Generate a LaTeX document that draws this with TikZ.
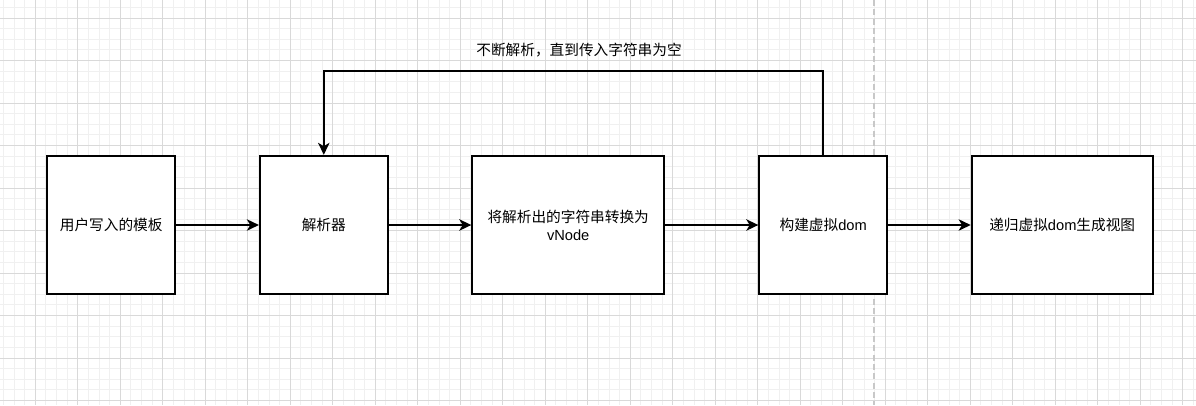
\documentclass[tikz,border=0pt]{standalone}
\usepackage{fontspec}
\setmainfont{Liberation Sans}
\newfontfamily\cjk{Noto Sans CJK SC}
\usetikzlibrary{arrows.meta}
\definecolor{gridminor}{HTML}{F0F0F0}
\definecolor{gridmajor}{HTML}{D9D9D9}
\definecolor{pagebreak}{HTML}{C8C8C8}
\begin{document}
\begin{tikzpicture}[x=0.75pt,y=-0.75pt,
  stepbox/.style={draw=black, line width=1.5pt, fill=white, minimum height=103.7pt,
    inner sep=0pt, align=center, font=\fontsize{11pt}{13.3pt}\selectfont},
  flow/.style={line width=1.5pt, -{Stealth[length=9pt,width=8.5pt,inset=2.5pt]}},
  note/.style={font=\fontsize{11pt}{13.3pt}\selectfont}]
\useasboundingbox (0,0) rectangle (1196,405);
\fill[white] (0,0) rectangle (1196,405);
% background grid
\foreach \i in {0,...,112} \draw[gridminor, line width=0.75pt] ({3.45+10.625*\i},0) -- ++(0,405);
\foreach \j in {0,...,38} \draw[gridminor, line width=0.75pt] (0,{7.4+10.625*\j}) -- ++(1196,0);
\foreach \i in {0,...,27} \draw[gridmajor, line width=0.75pt] ({35.3+42.5*\i},0) -- ++(0,405);
\foreach \j in {0,...,9} \draw[gridmajor, line width=0.75pt] (0,{18+42.5*\j}) -- ++(1196,0);
% page break
\draw[pagebreak, line width=1.5pt, dash pattern=on 4.5pt off 2.5pt] (873.7,0) -- (873.7,405);

% steps
\node[stepbox, minimum width=95.8pt] (tpl) at (111.2,225) {\cjk 用户写入的模板};
\node[stepbox, minimum width=95.8pt] (parser) at (323.8,225) {\cjk 解析器};
\node[stepbox, minimum width=143.8pt] (vnode) at (568.2,225) {{\cjk 将解析出的字符串转换为}\\vNode};
\node[stepbox, minimum width=95.8pt] (dom) at (823.2,225) {{\cjk 构建虚拟}dom};
\node[stepbox, minimum width=135.75pt] (view) at (1062.2,225) {{\cjk 递归虚拟}dom{\cjk 生成视图}};

% connectors
\draw[flow] (tpl) -- (parser);
\draw[flow] (parser) -- (vnode);
\draw[flow] (vnode) -- (dom);
\draw[flow] (dom) -- (view);

% feedback loop
\coordinate (looptop) at (823.2,71);
\draw[flow] (dom.north) -- (dom.north |- looptop) -- (parser.north |- looptop) -- (parser.north);
\node[note] (loopnote) at (579,50) {\cjk 不断解析，直到传入字符串为空};
\end{tikzpicture}
\end{document}
